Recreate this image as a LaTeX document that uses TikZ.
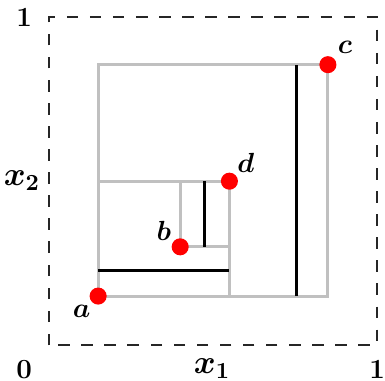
\documentclass[tikz,border=0pt]{standalone}
\usepackage{amsmath,amssymb}
\definecolor{figG}{RGB}{192,192,192}
\definecolor{figR}{RGB}{255,0,0}

\begin{document}
\begin{tikzpicture}[x=5cm,y=5cm,
  box/.style={figG,line width=1.3pt},
  cut/.style={black,line width=1.3pt},
  pt/.style={circle,fill=figR,inner sep=0pt,minimum size=0.26cm},
  lab/.style={font=\large\bfseries\boldmath,inner sep=1pt},
  axl/.style={font=\Large\bfseries\boldmath,inner sep=1pt}]
\useasboundingbox (-0.149,-0.107) rectangle (1.024,1.052);
\draw[black!85,line width=0.8pt,dash pattern=on 5pt off 5pt] (0,0) rectangle (1,1);
\coordinate (a) at (0.15,0.15);
\coordinate (b) at (0.40,0.30);
\coordinate (c) at (0.85,0.855);
\coordinate (d) at (0.55,0.50);
\draw[box] (a) rectangle (c);
\draw[box] (a) rectangle (d);
\draw[box] (b) rectangle (d);
\draw[cut] (0.753,0.15)--(0.753,0.855);
\draw[cut] (0.15,0.228)--(0.55,0.228);
\draw[cut] (0.473,0.30)--(0.473,0.50);
\foreach \p in {a,b,c,d} \node[pt] (p\p) at (\p) {};
\node[lab] (la) at (0.10,0.104) {$a$};
\node[lab] (lb) at (0.35,0.35) {$b$};
\node[lab] (lc) at (0.902,0.909) {$c$};
\node[lab] (ld) at (0.60,0.555) {$d$};
\node[lab] (one2) at (-0.075,1.0) {1};
\node[lab] (zero) at (-0.075,-0.073) {0};
\node[axl] (x1) at (0.497,-0.07) {$x_1$};
\node[lab] (one1) at (1.0,-0.073) {1};
\node[axl] (x2) at (-0.082,0.503) {$x_2$};
\end{tikzpicture}
\end{document}
